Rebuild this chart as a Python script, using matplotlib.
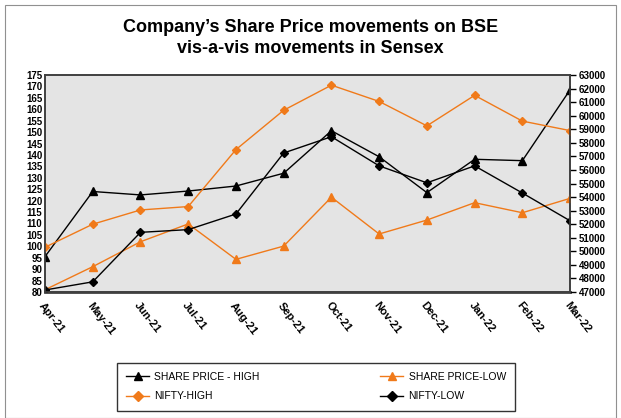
import matplotlib.pyplot as plt
from matplotlib.lines import Line2D
from matplotlib.patches import Rectangle

plt.rcParams['font.family'] = ['Liberation Sans', 'DejaVu Sans']

months = ["Apr-21", "May-21", "Jun-21", "Jul-21", "Aug-21", "Sep-21",
          "Oct-21", "Nov-21", "Dec-21", "Jan-22", "Feb-22", "Mar-22"]
share_high = [95.5, 124, 122.5, 124.2, 126.4, 132, 150.6, 139.2, 123.5, 138.1, 137.5, 168.5]
share_low = [81, 91.1, 102, 109.8, 94.3, 100.1, 121.5, 105.4, 111.5, 119.1, 114.7, 121]
nifty_high = [50300, 52000, 53050, 53300, 57500, 60400, 62250, 61050, 59250, 61500, 59600, 58900]
nifty_low = [47150, 47750, 51400, 51600, 52750, 57250, 58450, 56300, 55050, 56300, 54300, 52250]

orange = '#f07a1a'
x = list(range(len(months)))

fig = plt.figure(figsize=(6.21, 4.18), dpi=100)
ax = fig.add_axes([0.0725, 0.3014, 0.8455, 0.5192])
ax.set_facecolor('#e4e4e4')
ax2 = ax.twinx()

ax.plot(x, share_high, color='black', lw=1, marker='^', ms=5.5, zorder=3)
ax.plot(x, share_low, color=orange, lw=1, marker='^', ms=5.5, zorder=3)
ax2.plot(x, nifty_high, color=orange, lw=1, marker='D', ms=4.5)
ax2.plot(x, nifty_low, color='black', lw=1, marker='D', ms=4.5)

ax.set_xlim(0, len(months) - 1)
ax.set_ylim(80, 175)
ax.set_yticks(range(80, 176, 5))
ax2.set_ylim(47000, 63000)
ax2.set_yticks(range(47000, 63001, 1000))
ax.set_xticks(x)
ax.set_xticklabels(months, rotation=-52, ha='left', rotation_mode='anchor',
                   fontsize=8, fontweight='bold')
for t in ax.get_yticklabels() + ax2.get_yticklabels():
    t.set_fontsize(7)
    t.set_fontweight('bold')
ax.tick_params(axis='x', length=0, pad=6)
ax.tick_params(axis='y', length=0, pad=2)
ax2.tick_params(axis='y', length=4, width=1, pad=2)

for a in (ax, ax2):
    for s in a.spines.values():
        s.set_color('#404040')
        s.set_linewidth(1.2)
ax.spines['bottom'].set_linewidth(2)

fig.text(0.5, 0.935, "Company’s Share Price movements on BSE", ha='center', va='center',
         fontsize=13, fontweight='bold')
fig.text(0.5, 0.885, "vis-a-vis movements in Sensex", ha='center', va='center',
         fontsize=13, fontweight='bold')

# outer frame of the figure
fig.patches.append(Rectangle((0.008, 0.0), 0.984, 0.988, transform=fig.transFigure,
                             fill=False, edgecolor='#909090', lw=0.8))

handles = [
    Line2D([], [], color='black', lw=1, marker='^', ms=6),
    Line2D([], [], color=orange, lw=1, marker='D', ms=5),
    Line2D([], [], color=orange, lw=1, marker='^', ms=6),
    Line2D([], [], color='black', lw=1, marker='D', ms=5),
]
labels = ["SHARE PRICE - HIGH", "NIFTY-HIGH", "SHARE PRICE-LOW", "NIFTY-LOW"]
leg = fig.legend(handles, labels, ncol=2, loc='lower left',
                 bbox_to_anchor=(0.18, 0.005, 0.658, 0.15), mode='expand',
                 fontsize=7.5, frameon=True, fancybox=False, edgecolor='black',
                 handlelength=2.2, handletextpad=0.5, borderpad=0.9,
                 labelspacing=0.9, columnspacing=3)
leg.get_frame().set_linewidth(1)

fig.savefig('out.png', dpi=100)
